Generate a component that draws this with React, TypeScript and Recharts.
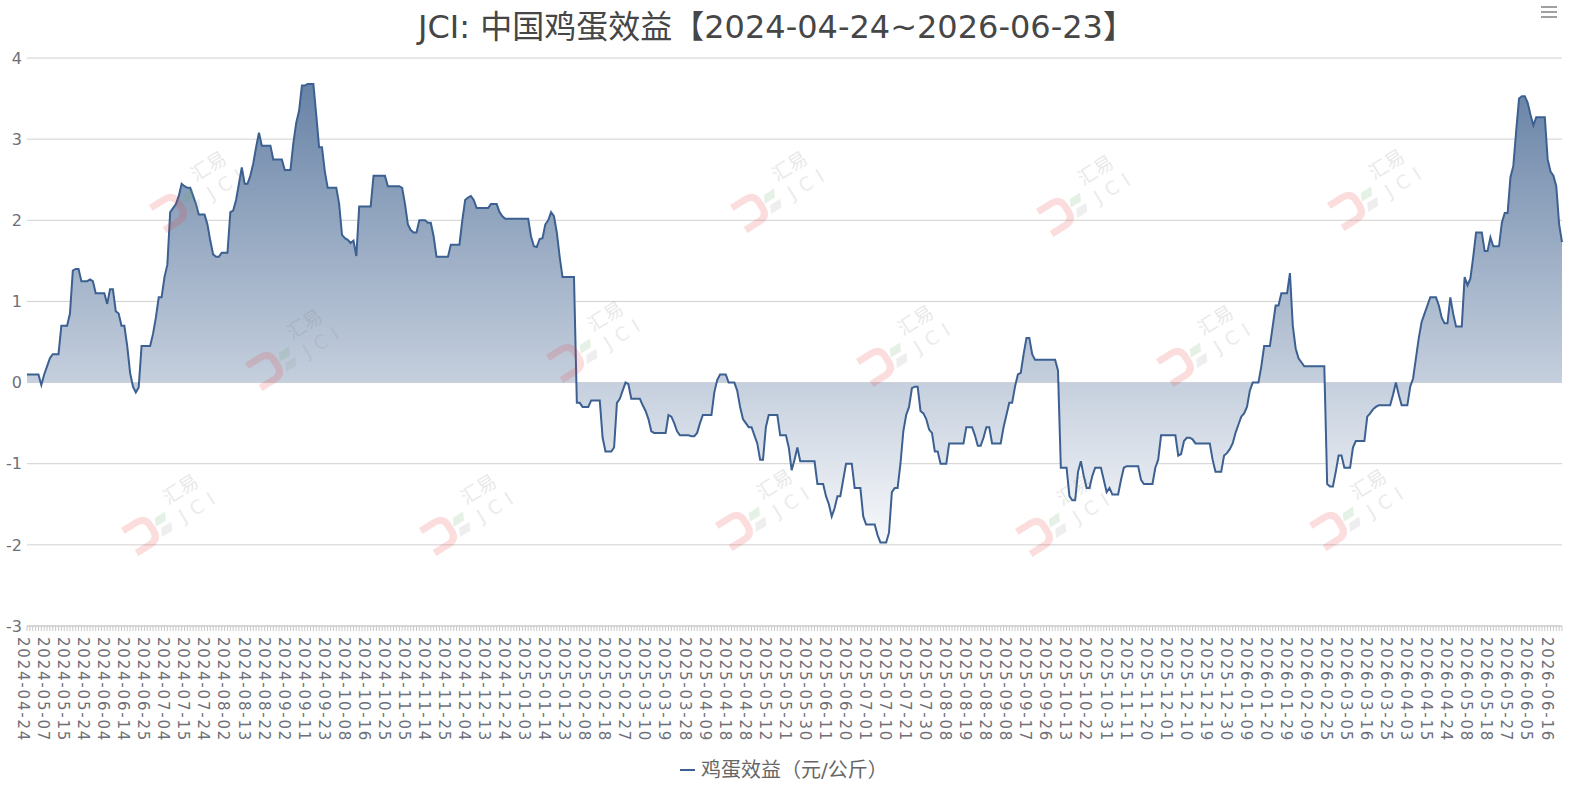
import React from 'react';
import { AreaChart, Area, XAxis, YAxis, CartesianGrid } from 'recharts';

const TITLE = 'JCI: 中国鸡蛋效益【2024-04-24~2026-06-23】';
const SERIES_NAME = '鸡蛋效益（元/公斤）';
const LABEL_STEP = 7;

const TICK_LABELS = [
  '2024-04-24', '2024-05-07', '2024-05-15', '2024-05-24', '2024-06-04', '2024-06-14', '2024-06-25',
  '2024-07-04', '2024-07-15', '2024-07-24', '2024-08-02', '2024-08-13', '2024-08-22', '2024-09-02',
  '2024-09-11', '2024-09-23', '2024-10-08', '2024-10-16', '2024-10-25', '2024-11-05', '2024-11-14',
  '2024-11-25', '2024-12-04', '2024-12-13', '2024-12-24', '2025-01-03', '2025-01-14', '2025-01-23',
  '2025-02-08', '2025-02-18', '2025-02-27', '2025-03-10', '2025-03-19', '2025-03-28', '2025-04-09',
  '2025-04-18', '2025-04-28', '2025-05-12', '2025-05-21', '2025-05-30', '2025-06-11', '2025-06-20',
  '2025-07-01', '2025-07-10', '2025-07-21', '2025-07-30', '2025-08-08', '2025-08-19', '2025-08-28',
  '2025-09-08', '2025-09-17', '2025-09-26', '2025-10-13', '2025-10-22', '2025-10-31', '2025-11-11',
  '2025-11-20', '2025-12-01', '2025-12-10', '2025-12-19', '2025-12-30', '2026-01-09', '2026-01-20',
  '2026-01-29', '2026-02-09', '2026-02-25', '2026-03-05', '2026-03-16', '2026-03-25', '2026-04-03',
  '2026-04-15', '2026-04-24', '2026-05-08', '2026-05-18', '2026-05-27', '2026-06-05', '2026-06-16',
];

// one row per 7 trading days (one row per x-axis label)
const VALUES = [
  0.1, 0.1, 0.1, 0.1, 0.1, -0.03, 0.1,
  0.2, 0.3, 0.35, 0.35, 0.35, 0.7, 0.7,
  0.7, 0.85, 1.38, 1.4, 1.4, 1.25, 1.25,
  1.25, 1.27, 1.25, 1.1, 1.1, 1.1, 1.1,
  0.97, 1.15, 1.15, 0.88, 0.85, 0.7, 0.7,
  0.45, 0.12, -0.05, -0.12, -0.06, 0.45, 0.45,
  0.45, 0.45, 0.6, 0.8, 1.05, 1.05, 1.3,
  1.45, 2.1, 2.15, 2.2, 2.3, 2.45, 2.42,
  2.4, 2.4, 2.3, 2.2, 2.07, 2.07, 2.07,
  1.95, 1.75, 1.58, 1.55, 1.55, 1.6, 1.6,
  1.6, 2.1, 2.12, 2.25, 2.45, 2.65, 2.45,
  2.45, 2.55, 2.7, 2.9, 3.08, 2.92, 2.92,
  2.92, 2.92, 2.75, 2.75, 2.75, 2.75, 2.62,
  2.62, 2.62, 2.95, 3.2, 3.35, 3.66, 3.66,
  3.68, 3.68, 3.68, 3.3, 2.9, 2.9, 2.6,
  2.4, 2.4, 2.4, 2.4, 2.2, 1.82, 1.78,
  1.76, 1.72, 1.75, 1.56, 2.17, 2.17, 2.17,
  2.17, 2.17, 2.55, 2.55, 2.55, 2.55, 2.55,
  2.42, 2.42, 2.42, 2.42, 2.42, 2.4, 2.2,
  1.95, 1.88, 1.85, 1.85, 2.0, 2.0, 2.0,
  1.97, 1.97, 1.8, 1.55, 1.55, 1.55, 1.55,
  1.55, 1.7, 1.7, 1.7, 1.7, 2.0, 2.25,
  2.28, 2.3, 2.25, 2.15, 2.15, 2.15, 2.15,
  2.15, 2.2, 2.2, 2.2, 2.1, 2.05, 2.02,
  2.02, 2.02, 2.02, 2.02, 2.02, 2.02, 2.02,
  2.02, 1.8, 1.68, 1.67, 1.77, 1.78, 1.95,
  2.0, 2.1, 2.05, 1.85, 1.55, 1.3, 1.3,
  1.3, 1.3, 1.3, -0.25, -0.25, -0.3, -0.3,
  -0.3, -0.22, -0.22, -0.22, -0.22, -0.68, -0.85,
  -0.85, -0.85, -0.8, -0.25, -0.2, -0.1, 0.0,
  -0.02, -0.2, -0.2, -0.2, -0.2, -0.28, -0.35,
  -0.45, -0.6, -0.62, -0.62, -0.62, -0.62, -0.62,
  -0.4, -0.42, -0.5, -0.6, -0.65, -0.65, -0.65,
  -0.65, -0.66, -0.66, -0.62, -0.5, -0.4, -0.4,
  -0.4, -0.4, -0.12, 0.03, 0.1, 0.1, 0.1,
  0.0, 0.0, 0.0, -0.1, -0.3, -0.45, -0.5,
  -0.55, -0.55, -0.65, -0.75, -0.95, -0.95, -0.55,
  -0.4, -0.4, -0.4, -0.4, -0.65, -0.65, -0.65,
  -0.8, -1.08, -0.95, -0.8, -0.97, -0.97, -0.97,
  -0.97, -0.97, -0.97, -1.25, -1.25, -1.25, -1.4,
  -1.5, -1.65, -1.55, -1.4, -1.4, -1.2, -1.0,
  -1.0, -1.0, -1.3, -1.3, -1.3, -1.65, -1.75,
  -1.75, -1.75, -1.75, -1.88, -1.97, -1.97, -1.97,
  -1.85, -1.35, -1.3, -1.3, -1.0, -0.6, -0.4,
  -0.3, -0.07, -0.05, -0.05, -0.35, -0.38, -0.45,
  -0.58, -0.62, -0.85, -0.85, -1.0, -1.0, -1.0,
  -0.75, -0.75, -0.75, -0.75, -0.75, -0.75, -0.55,
  -0.55, -0.55, -0.65, -0.78, -0.78, -0.68, -0.55,
  -0.55, -0.75, -0.75, -0.75, -0.75, -0.55, -0.4,
  -0.25, -0.25, -0.05, 0.1, 0.12, 0.35, 0.55,
  0.55, 0.35, 0.28, 0.28, 0.28, 0.28, 0.28,
  0.28, 0.28, 0.28, 0.15, -1.05, -1.05, -1.05,
  -1.4, -1.45, -1.45, -1.1, -0.97, -1.15, -1.3,
  -1.3, -1.15, -1.05, -1.05, -1.05, -1.2, -1.35,
  -1.3, -1.38, -1.38, -1.38, -1.2, -1.05, -1.03,
  -1.03, -1.03, -1.03, -1.03, -1.2, -1.25, -1.25,
  -1.25, -1.25, -1.05, -0.95, -0.65, -0.65, -0.65,
  -0.65, -0.65, -0.65, -0.9, -0.88, -0.72, -0.68,
  -0.68, -0.7, -0.75, -0.75, -0.75, -0.75, -0.75,
  -0.75, -0.95, -1.1, -1.1, -1.1, -0.9, -0.87,
  -0.82, -0.75, -0.62, -0.52, -0.42, -0.38, -0.3,
  -0.1, 0.0, 0.0, 0.0, 0.2, 0.45, 0.45,
  0.45, 0.7, 0.95, 0.95, 1.1, 1.1, 1.1,
  1.35, 0.7, 0.42, 0.3, 0.25, 0.2, 0.2,
  0.2, 0.2, 0.2, 0.2, 0.2, 0.2, -1.25,
  -1.28, -1.28, -1.1, -0.9, -0.9, -1.05, -1.05,
  -1.05, -0.8, -0.72, -0.72, -0.72, -0.72, -0.42,
  -0.38, -0.33, -0.3, -0.28, -0.28, -0.28, -0.28,
  -0.28, -0.15, 0.0, -0.15, -0.28, -0.28, -0.28,
  -0.05, 0.05, 0.3, 0.55, 0.75, 0.85, 0.95,
  1.05, 1.05, 1.05, 0.95, 0.8, 0.73, 0.73,
  1.05, 0.85, 0.69, 0.69, 0.69, 1.3, 1.2,
  1.28, 1.55, 1.85, 1.85, 1.85, 1.62, 1.62,
  1.79, 1.68, 1.68, 1.68, 1.97, 2.09, 2.09,
  2.53, 2.67, 3.1, 3.5, 3.53, 3.53, 3.45,
  3.3, 3.17, 3.27, 3.27, 3.27, 3.27, 2.75,
  2.6, 2.55, 2.42, 1.95, 1.73,
];

const Y_TICKS = [-3, -2, -1, 0, 1, 2, 3, 4];

const CJK = '"Noto Sans CJK SC", sans-serif';
const MIXED = '"DejaVu Sans", "Noto Sans CJK SC", sans-serif';
const LINE_COLOR = '#3b6091';
const AXIS_TEXT = '#6e7079';

// watermark anchor points (decoration only)
const WATERMARKS = [
  [196, 182], [777, 182], [1083, 186], [1374, 180],
  [292, 340], [593, 332], [903, 336], [1203, 336],
  [168, 505], [466, 505], [762, 500], [1062, 506], [1356, 500],
];

const data = VALUES.map((v, i) => ({ i, v }));

const XTick = (props: any) => {
  const { x, y, payload } = props;
  const idx = payload.value as number;
  const label = idx % LABEL_STEP === 0 ? TICK_LABELS[idx / LABEL_STEP] : undefined;
  const tx = x - 4;
  const ty = y + 11;
  return (
    <g>
      <line x1={x} x2={x} y1={y} y2={y + 5} stroke="#c8c8c8" strokeWidth={1} />
      {label && (
        <text
          x={tx}
          y={ty}
          transform={`rotate(90 ${tx} ${ty})`}
          textAnchor="start"
          dominantBaseline="central"
          fontSize={15}
          letterSpacing={1.8}
          fill={AXIS_TEXT}
          fontFamily={MIXED}
        >
          {label}
        </text>
      )}
    </g>
  );
};

const Watermark = ({ x, y }: { x: number; y: number }) => (
  <g transform={`translate(${x} ${y}) rotate(-32)`} opacity={0.16}>
    <path d="M -52 -2 L -36 -2 Q -26 -2 -26 8 L -26 14 Q -26 24 -36 24 L -52 24" stroke="#e33" strokeWidth={7} fill="none" />
    <path d="M -18 4 L -6 4 L -10 12 L -22 12 Z" fill="#6a6" />
    <path d="M -18 16 L -6 16 L -10 24 L -22 24 Z" fill="#999" />
    <text x={0} y={0} fontSize={19} fill="#777" fontFamily={CJK}>汇易</text>
    <text x={4} y={24} fontSize={19} fill="#888" letterSpacing={7} fontFamily={MIXED}>JCI</text>
  </g>
);

export default function App() {
  return (
    <div style={{ position: 'absolute', left: 0, top: 0, width: 1573, height: 793, background: '#fff', fontFamily: CJK }}>
      <div
        style={{
          position: 'absolute',
          top: 9,
          left: 0,
          width: 1553,
          textAlign: 'center',
          fontSize: 32,
          lineHeight: '36px',
          color: '#464646',
          whiteSpace: 'nowrap',
          fontFamily: MIXED,
        }}
      >
        {TITLE}
      </div>
      <div style={{ position: 'absolute', left: 1541, top: 6, width: 16 }}>
        {[0, 1, 2].map((k) => (
          <div key={k} style={{ height: 2, background: '#a0a0a0', marginBottom: 3 }} />
        ))}
      </div>
      <AreaChart
        width={1573}
        height={793}
        data={data}
        margin={{ top: 58, right: 11, bottom: 37, left: 0 }}
      >
        <defs>
          <linearGradient id="eggGrad" x1="0" y1="0" x2="0" y2="1">
            <stop offset="0%" stopColor="#6883a6" />
            <stop offset="100%" stopColor="#f7f8fb" />
          </linearGradient>
        </defs>
        <CartesianGrid vertical={false} stroke="#d0d0d0" />
        <XAxis
          dataKey="i"
          type="category"
          interval={0}
          tick={<XTick />}
          tickLine={false}
          tickSize={0}
          tickMargin={0}
          axisLine={{ stroke: '#c8c8c8' }}
          height={130}
        />
        <YAxis
          type="number"
          domain={[-3, 4]}
          ticks={Y_TICKS}
          width={27}
          axisLine={false}
          tickLine={false}
          tickSize={0}
          tickMargin={5}
          tick={{ fill: AXIS_TEXT, fontSize: 16, fontFamily: MIXED }}
          allowDataOverflow
        />
        <Area
          type="linear"
          dataKey="v"
          name={SERIES_NAME}
          baseValue={0}
          stroke={LINE_COLOR}
          strokeWidth={2}
          fill="url(#eggGrad)"
          fillOpacity={1}
          dot={false}
          activeDot={false}
          isAnimationActive={false}
        />
      </AreaChart>
      <svg
        width={1573}
        height={793}
        style={{ position: 'absolute', left: 0, top: 0, pointerEvents: 'none' }}
      >
        {WATERMARKS.map(([x, y], k) => (
          <Watermark key={k} x={x} y={y} />
        ))}
      </svg>
      <div style={{ position: 'absolute', top: 758, left: 680, display: 'flex', alignItems: 'center' }}>
        <div style={{ width: 15, height: 2, background: LINE_COLOR, marginRight: 6 }} />
        <span style={{ fontSize: 20, color: '#666', lineHeight: '24px', fontFamily: MIXED, whiteSpace: 'nowrap' }}>
          {SERIES_NAME}
        </span>
      </div>
    </div>
  );
}
